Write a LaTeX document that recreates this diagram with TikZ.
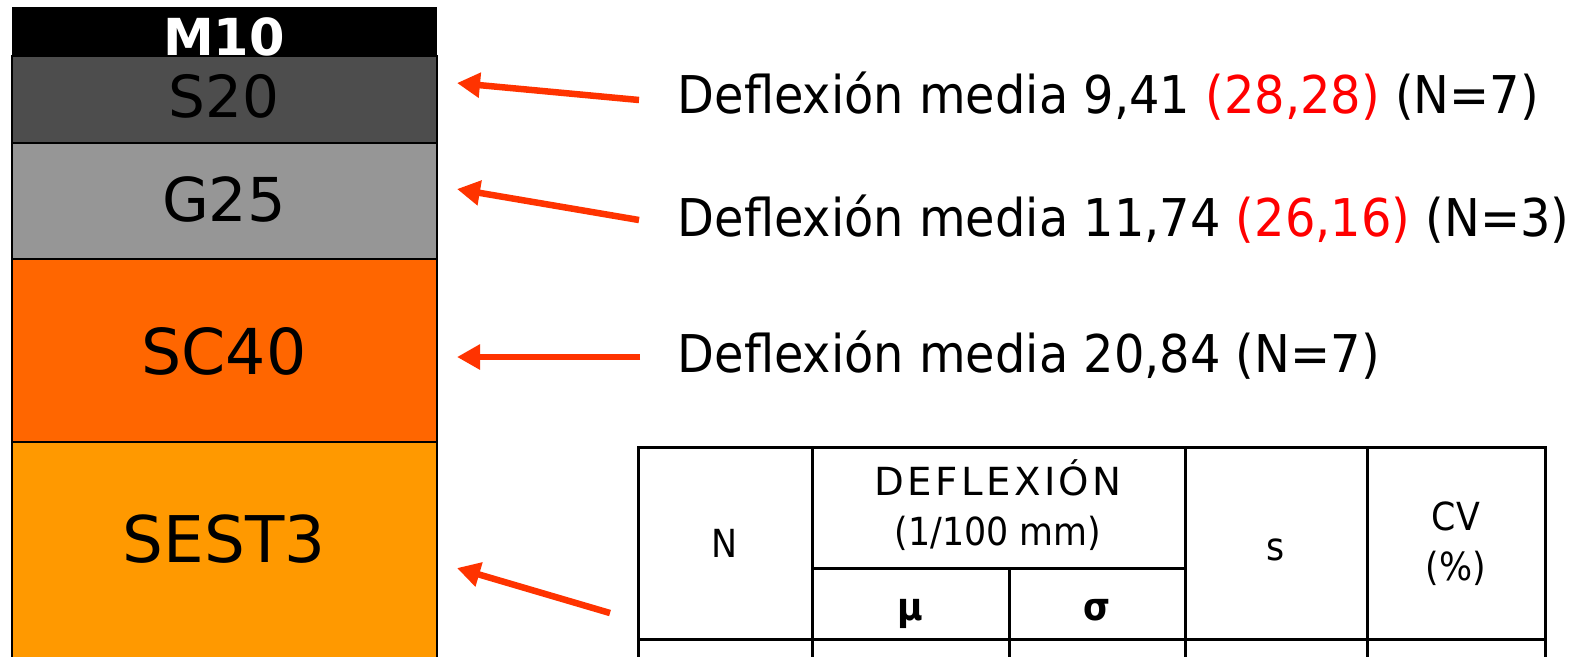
\documentclass[tikz,border=0pt]{standalone}
\usepackage{fontspec}
\setmainfont{DejaVu Sans}
\newfontfamily\textofont[FakeStretch=0.92]{DejaVu Sans}
\newfontfamily\tablafont{DejaVu Sans Condensed}
\newfontfamily\titulofont[LetterSpace=9]{DejaVu Sans}
\usetikzlibrary{arrows.meta}
\usetikzlibrary{positioning}

\definecolor{grisoscuro}{HTML}{4D4D4D}
\definecolor{grisclaro}{HTML}{969696}
\definecolor{naranja}{HTML}{FF6600}
\definecolor{naranjaclaro}{HTML}{FF9900}
\definecolor{flecharoja}{HTML}{FF3300}

\tikzset{
  capa/.style={draw=black, line width=0.025cm},
  etiqueta/.style={anchor=base, inner sep=0pt},
  deflexion/.style={anchor=base west, inner sep=0pt, font=\textofont\fontsize{14.8}{18}\selectfont},
  flecha/.style={draw=flecharoja, line width=0.065cm, -{Triangle[length=0.23cm, width=0.24cm]}},
  tabla/.style={line width=0.03cm},
  celda/.style={anchor=base, inner sep=0pt, font=\tablafont\fontsize{11}{13}\selectfont}
}

\begin{document}
\begin{tikzpicture}[x=0.01cm, y=-0.01cm]
    \useasboundingbox (0,0) rectangle (1570,656);

    % capas del firme
    \fill[black] (12,7) rectangle (437,56);
    \filldraw[capa, fill=grisoscuro] (12,56) rectangle (437,143);
    \filldraw[capa, fill=grisclaro] (12,143) rectangle (437,259);
    \filldraw[capa, fill=naranja] (12,259) rectangle (437,442);
    \filldraw[capa, fill=naranjaclaro] (12,442) rectangle (437,670);

    \node[etiqueta, text=white, font=\fontsize{14.5}{17}\bfseries\selectfont] (m10) at (224,55) {M10};
    \node[etiqueta, font=\fontsize{16.5}{19}\selectfont] (s20) at (224,117) {S20};
    \node[etiqueta, font=\fontsize{17.2}{20}\selectfont] (g25) at (224,221) {G25};
    \node[etiqueta, font=\fontsize{18}{21}\selectfont] (sc40) at (224,374) {SC40};
    \node[etiqueta, font=\fontsize{18.3}{21}\selectfont] (sest3) at (224,562) {SEST3};

    % deflexiones
    \node[deflexion] (d1) at (677,113) {Deflexión media 9,41 \textcolor{red}{(28,28)} (N=7)};
    \node[deflexion] (d2) at (677,236) {Deflexión media 11,74 \textcolor{red}{(26,16)} (N=3)};
    \node[deflexion] (d3) at (677,372) {Deflexión media 20,84 (N=7)};

    \coordinate (c1) at (639,100);
    \coordinate (p1) at (457,83);
    \coordinate (c2) at (639,220);
    \coordinate (p2) at (457,189);
    \coordinate (c3) at (640,357);
    \coordinate (p3) at (457,357);
    \coordinate (c4) at (610,613);
    \coordinate (p4) at (457,568);

    \draw[flecha] (c1) -- (p1);
    \draw[flecha] (c2) -- (p2);
    \draw[flecha] (c3) -- (p3);
    \draw[flecha] (c4) -- (p4);

    % tabla
    \draw[tabla] (638,670) -- (638,447) -- (1545,447) -- (1545,670);
    \draw[tabla] (812,447) -- (812,670);
    \draw[tabla] (1185,447) -- (1185,670);
    \draw[tabla] (1367,447) -- (1367,670);
    \draw[tabla] (1009,568) -- (1009,670);
    \draw[tabla] (812,568) -- (1185,568);
    \draw[tabla] (638,639) -- (1545,639);

    \node[celda] (tn) at (725,557) {N};
    \node[celda, font=\titulofont\fontsize{11}{13}\selectfont] (tdef) at (998,495) {DEFLEXIÓN};
    \node[celda] (tunid) at (998,545) {(1/100 mm)};
    \node[celda] (tmu) at (910,620) {\bfseries μ};
    \node[celda] (tsigma) at (1097,620) {\bfseries σ};
    \node[celda] (ts) at (1276,560) {s};
    \node[celda] (tcv) at (1456,530) {CV};
    \node[celda] (tpor) at (1456,580) {(\%)};
\end{tikzpicture}
\end{document}
